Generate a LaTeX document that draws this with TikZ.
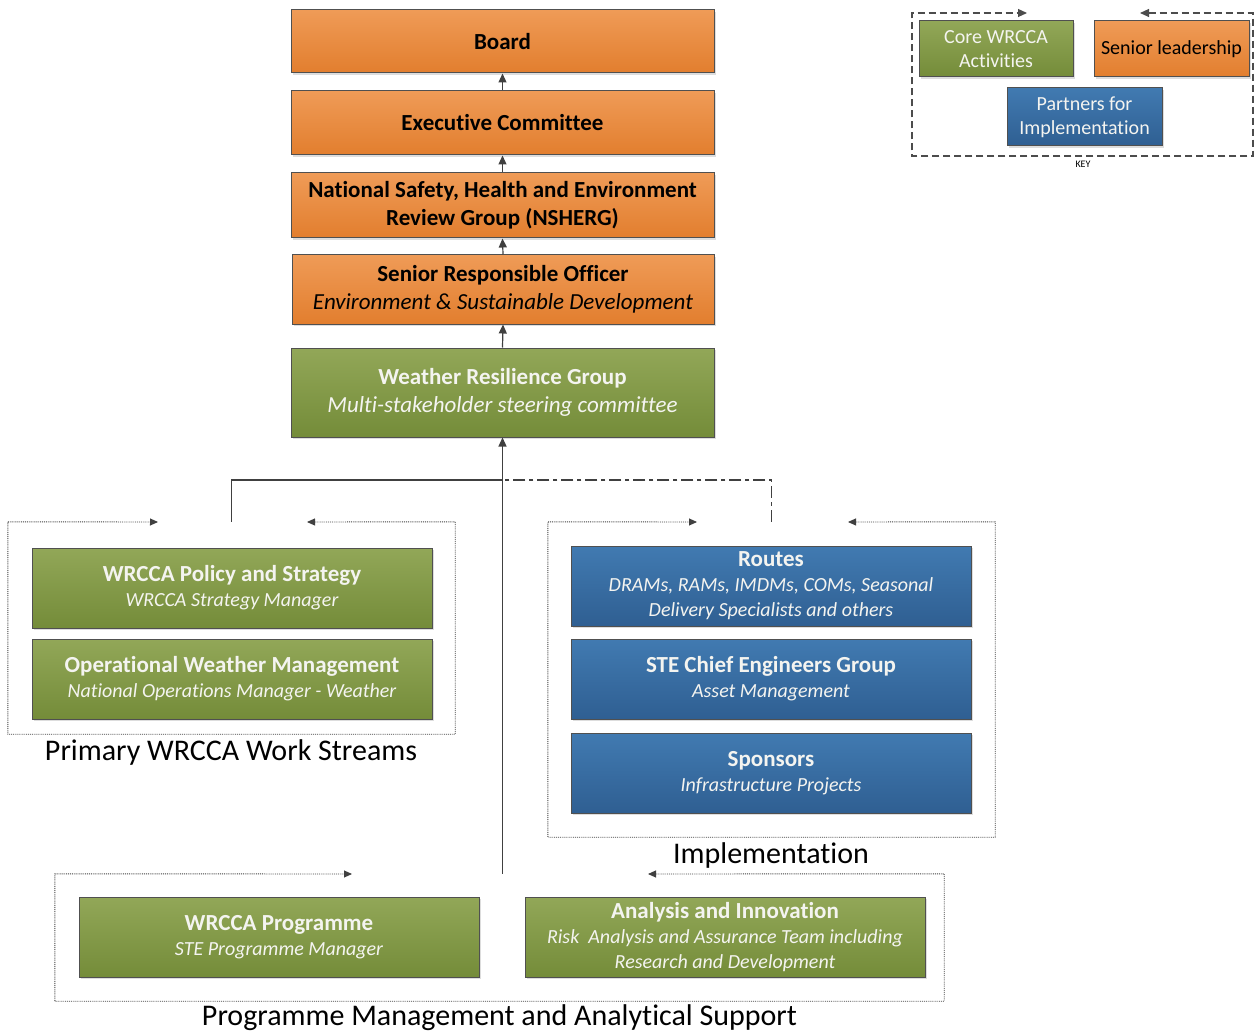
\documentclass[tikz,border=0pt]{standalone}
\usepackage{fontspec}
\setmainfont{Carlito}[Ligatures=NoCommon]
\usetikzlibrary{arrows.meta,shadows,calc}
\definecolor{orT}{HTML}{EF9B57}
\definecolor{orB}{HTML}{E27E2E}
\definecolor{grT}{HTML}{92A758}
\definecolor{grB}{HTML}{748C39}
\definecolor{blT}{HTML}{417AB1}
\definecolor{blB}{HTML}{2F5F92}
\definecolor{edge}{HTML}{505050}
\definecolor{lineC}{HTML}{404040}
\definecolor{softwhite}{HTML}{F4F4F0}
\newcommand{\ttl}[1]{{\fontsize{23}{26}\selectfont\bfseries #1}}
\begin{document}
\begin{tikzpicture}[x=1pt,y=-1pt,
  box/.style={draw=edge, line width=1pt, align=center, inner sep=0pt,
    drop shadow={shadow xshift=2pt, shadow yshift=-2pt, fill=black!22, opacity=0.6}},
  obox/.style={box, top color=orT, bottom color=orB, text=black},
  gbox/.style={box, top color=grT, bottom color=grB, text=softwhite},
  bbox/.style={box, top color=blT, bottom color=blB, text=softwhite},
  big/.style={font=\fontsize{23}{28}\selectfont},
  sub/.style={font=\fontsize{20}{25}\selectfont},
  keyf/.style={font=\fontsize{20}{24}\selectfont},
  conn/.style={draw=lineC, line width=1.2pt, -{Triangle[length=9pt,width=8pt]}},
  plain/.style={draw=lineC, line width=1.2pt},
  frame/.style={draw=black!75, line width=0.9pt, densely dotted, {Triangle[length=8pt,width=7pt]}-{Triangle[length=8pt,width=7pt]}},
  keyframe/.style={draw=black!70, line width=1.1pt, dash pattern=on 7pt off 4pt, {Triangle[length=9pt,width=8pt]}-{Triangle[length=9pt,width=8pt]}},
  lab/.style={font=\fontsize{30}{33}\selectfont, text=black}
]
\useasboundingbox (0,0) rectangle (1255,1032);

% top chain
\node[obox, big, minimum width=423pt, minimum height=63pt] (board) at (502.5,41.5) {\bfseries Board};
\node[obox, big, minimum width=423pt, minimum height=64pt] (exec) at (502.5,123) {\bfseries Executive Committee};
\node[obox, big, minimum width=423pt, minimum height=65pt] (nsherg) at (502.5,205.5) {\bfseries National Safety, Health and Environment\\\bfseries Review Group (NSHERG)};
\node[obox, big, minimum width=422pt, minimum height=69pt] (sro) at (503,289.5) {\bfseries Senior Responsible Officer\\\itshape Environment \& Sustainable Development};
\node[gbox, big, minimum width=423pt, minimum height=89pt] (wrg) at (502.5,392.5) {\bfseries Weather Resilience Group\\\itshape Multi-stakeholder steering committee};

\draw[conn] (exec.north) -- (board.south);
\draw[conn] (nsherg.north) -- (exec.south);
\draw[conn] (sro.north) -- (nsherg.south);
\draw[conn] (wrg.north) -- (sro.south);

% groups (invisible frames)
\node[minimum width=447pt, minimum height=212pt, inner sep=0pt] (lbox) at (231.5,628) {};
\node[minimum width=447pt, minimum height=315pt, inner sep=0pt] (rbox) at (771.5,679.5) {};
\node[minimum width=889pt, minimum height=127pt, inner sep=0pt] (pbox) at (499.5,937.5) {};

\draw[frame] (307,522) -- (lbox.north east) -- (lbox.south east) -- (lbox.south west) -- (lbox.north west) -- (158,522);
\draw[frame] (848,522) -- (rbox.north east) -- (rbox.south east) -- (rbox.south west) -- (rbox.north west) -- (697,522);
\draw[frame] (648,874) -- (pbox.north east) -- (pbox.south east) -- (pbox.south west) -- (pbox.north west) -- (352,874);

% primary work streams
\node[gbox, sub, minimum width=400pt, minimum height=80pt] (pol) at (232,588) {\ttl{WRCCA Policy and Strategy}\\\itshape WRCCA Strategy Manager};
\node[gbox, sub, minimum width=400pt, minimum height=80pt] (owm) at (232,679) {\ttl{Operational Weather Management}\\\itshape National Operations Manager - Weather};
\node[lab] (llab) at (231,752) {Primary WRCCA Work Streams};

% implementation
\node[bbox, sub, minimum width=400pt, minimum height=80pt] (routes) at (771,586) {\ttl{Routes}\\\itshape DRAMs, RAMs, IMDMs, COMs, Seasonal\\\itshape Delivery Specialists and others};
\node[bbox, sub, minimum width=400pt, minimum height=80pt] (ste) at (771,679) {\ttl{STE Chief Engineers Group}\\\itshape Asset Management};
\node[bbox, sub, minimum width=400pt, minimum height=80pt] (spons) at (771,773) {\ttl{Sponsors}\\\itshape Infrastructure Projects};
\node[lab] (rlab) at (771,855) {Implementation};

% programme management
\node[gbox, sub, minimum width=400pt, minimum height=80pt] (prog) at (279,937) {\ttl{WRCCA Programme}\\\itshape STE Programme Manager};
\node[gbox, sub, minimum width=400pt, minimum height=80pt] (anal) at (725,937) {\ttl{Analysis and Innovation}\\\itshape Risk\ \ Analysis and Assurance Team including\\\itshape Research and Development};
\node[lab] (plab) at (499.5,1018) {Programme Management and Analytical Support};

% connectors to WRG
\coordinate (jn) at (wrg.south |- 0,480);
\draw[plain] (lbox.north) |- (jn);
\draw[plain, dash pattern=on 12pt off 4pt on 4pt off 4pt] (rbox.north) |- (jn);
\draw[conn] (wrg.south |- pbox.north) -- (wrg.south);

% key
\draw[keyframe] (1140,13) -- (1253,13) -- (1253,156) -- (912,156) -- (912,13) -- (1027,13);
\node[gbox, keyf, minimum width=154pt, minimum height=56pt] (kcore) at (996,49) {Core WRCCA\\Activities};
\node[obox, keyf, minimum width=155pt, minimum height=56pt] (ksen) at (1171.5,49) {Senior leadership};
\node[bbox, keyf, minimum width=155pt, minimum height=58pt] (kpart) at (1084.5,117) {Partners for\\Implementation};
\node[font=\fontsize{10}{12}\selectfont] (key) at (1083,164) {KEY};
\end{tikzpicture}
\end{document}
